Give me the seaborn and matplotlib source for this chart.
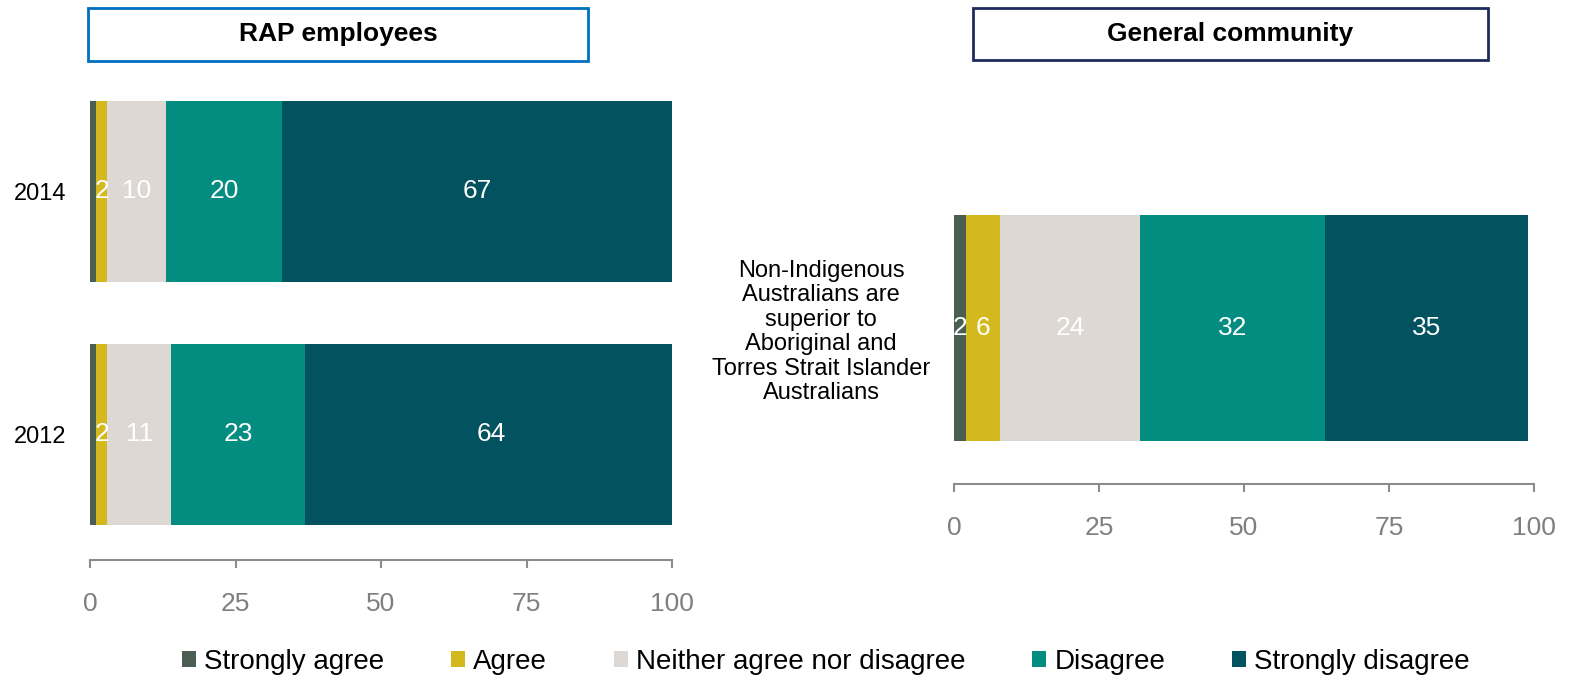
import numpy as np
import pandas as pd
import matplotlib
matplotlib.use("Agg")
import matplotlib.pyplot as plt
import seaborn as sns
from matplotlib.patches import Rectangle, Patch

# Response scale and colours
responses = ["Strongly agree", "Agree", "Neither agree nor disagree",
             "Disagree", "Strongly disagree"]
colors = ["#4b5e52", "#d3b91e", "#ddd8d4", "#038c80", "#03525f"]

# RAP employees, by survey year
rap_years = ["2014", "2012"]
rap_2014 = [1, 2, 10, 20, 67]
rap_2012 = [1, 2, 11, 23, 64]

# General community
community_item = ["Non-Indigenous\nAustralians are\nsuperior to\nAboriginal and\n"
                  "Torres Strait Islander\nAustralians"]
community_values = [2, 6, 24, 32, 35]

panel_titles = ["RAP employees", "General community"]
xticks = [0, 25, 50, 75, 100]

sns.set_style("white")
plt.rcParams["font.family"] = ["Liberation Sans", "DejaVu Sans"]
plt.rcParams["text.color"] = "black"

AXIS_GREY = "#8c8c8c"
TICK_GREY = "#7f7f7f"


def long_frame(categories, rows):
    recs = []
    for cat, vals in zip(categories, rows):
        for resp, v in zip(responses, vals):
            recs.append({"cat": cat, "response": resp, "value": v})
    df = pd.DataFrame(recs)
    df["end"] = df.groupby("cat")["value"].cumsum()
    df["start"] = df["end"] - df["value"]
    return df


def draw_stacked(ax, df, order, bar_width):
    # Overlay cumulative bars from the longest down so each segment shows
    for resp, col in reversed(list(zip(responses, colors))):
        sub = df[df["response"] == resp]
        sns.barplot(data=sub, x="end", y="cat", order=order, color=col,
                    saturation=1, width=bar_width, orient="h",
                    errorbar=None, linewidth=0, edgecolor="none", ax=ax)
    for _, r in df.iterrows():
        if r["value"] >= 2:
            ax.text(r["start"] + r["value"] / 2, order.index(r["cat"]),
                    f"{r['value']:g}", ha="center", va="center",
                    color="white", fontsize=19)


def style_axis(ax, ypad):
    ax.set_xlim(0, 100)
    ax.set_xticks(xticks)
    ax.set_xlabel("")
    ax.set_ylabel("")
    for s in ["top", "right", "left"]:
        ax.spines[s].set_visible(False)
    ax.spines["bottom"].set_color(AXIS_GREY)
    ax.spines["bottom"].set_linewidth(1.5)
    ax.tick_params(axis="x", bottom=True, direction="out", length=6, width=1.5,
                   color=AXIS_GREY, labelcolor=TICK_GREY, labelsize=19, pad=17)
    ax.tick_params(axis="y", left=False, length=0, labelsize=17, pad=ypad,
                   labelcolor="black")
    ax.grid(False)


W, H = 1574, 677
fig = plt.figure(figsize=(W / 100, H / 100), dpi=100)

# Left panel: RAP employees (bars 101-282 and 345-525 px, spine at 560 px)
ax1 = fig.add_axes([90 / W, 1 - 560 / H, 582 / W, (560 - 70) / H])
df_rap = long_frame(rap_years, [rap_2014, rap_2012])
draw_stacked(ax1, df_rap, rap_years, 0.745)
style_axis(ax1, 17)
ax1.set_ylim(1.517, -0.5)

# Right panel: general community (bar 215-441 px, spine at 484 px)
ax2 = fig.add_axes([954 / W, 1 - 484 / H, 580 / W, (484 - 187) / H])
df_com = long_frame(community_item, [community_values])
draw_stacked(ax2, df_com, community_item, 0.8)
style_axis(ax2, 17)
ax2.set_ylim(0.552, -0.5)
for lbl in ax2.get_yticklabels():
    lbl.set_multialignment("center")
    lbl.set_linespacing(1.15)

# Boxed panel titles
boxes = [((88, 8, 588, 61), "#0070c0"), ((973, 8, 1488, 60), "#1f2a5c")]
for (x0, y0, x1, y1), ec in boxes:
    fig.add_artist(Rectangle((x0 / W, 1 - y1 / H), (x1 - x0) / W, (y1 - y0) / H,
                             transform=fig.transFigure, fill=False,
                             edgecolor=ec, linewidth=2))
for ((x0, y0, x1, y1), _), title in zip(boxes, panel_titles):
    fig.text((x0 + x1) / 2 / W, 1 - (y0 + y1) / 2 / H, title,
             ha="center", va="center", fontsize=19, fontweight="bold",
             color="black")

# Shared legend
handles = [Patch(facecolor=c, edgecolor="none", label=r)
           for r, c in zip(responses, colors)]
leg = fig.legend(handles=handles, loc="center",
                 bbox_to_anchor=(826 / W, 1 - 662 / H),
                 ncol=5, frameon=False, fontsize=20, handlelength=0.5,
                 handleheight=0.5, handletextpad=0.3, columnspacing=2.4,
                 borderpad=0)
for t in leg.get_texts():
    t.set_color("black")

fig.savefig("out.png", dpi=100, facecolor="white")
